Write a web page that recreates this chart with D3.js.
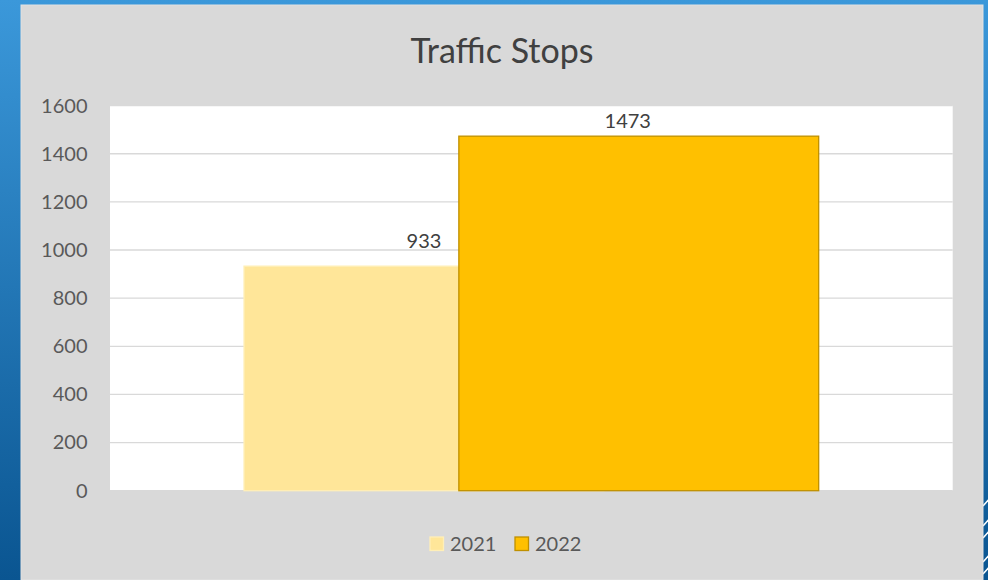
<!DOCTYPE html>
<html>
<head>
<meta charset="utf-8">
<script src="https://cdn.jsdelivr.net/npm/d3@7"></script>
<style>
  html, body { margin: 0; padding: 0; background: #fff; }
  svg { display: block; }
</style>
</head>
<body>
<script>
// chart values
const title = 'Traffic Stops'
const series = ['2021', '2022']
const values = [933, 1473]
const yTicks = [0, 200, 400, 600, 800, 1000, 1200, 1400, 1600]

const config = {
  width: 988,
  height: 580,
  panel: { x: 21, y: 5, w: 962, h: 575 },
  plot: { left: 110, right: 952.7, top: 105.6, bottom: 490.7 },
  barWidthFrac: 0.427,     // bar width as share of plot width
  overlapStep: 0.597,      // series step as share of bar width
  fills: ['#FFE699', '#FFC000'],
  strokes: ['#FFEFB8', '#BF9000'],
  textColor: '#595959',
  font: 'Lato, "Noto Sans", sans-serif',
  labelNudge: [{ dx: 0, dy: -18.5 }, { dx: -11, dy: -8.3 }]
}

const svg = d3.select('body').append('svg')
  .attr('width', config.width)
  .attr('height', config.height)

// blue slide background
const defs = svg.append('defs')
const grad = defs.append('linearGradient')
  .attr('id', 'bg').attr('x1', 0).attr('y1', 0).attr('x2', 0).attr('y2', 1)
grad.append('stop').attr('offset', '0%').attr('stop-color', '#3b98da')
grad.append('stop').attr('offset', '100%').attr('stop-color', '#0a5591')

svg.append('rect')
  .attr('width', config.width).attr('height', config.height)
  .attr('fill', 'url(#bg)')

// little white slashes at the bottom right edge
const slashes = [500, 520, 532, 556, 568]
svg.append('g').selectAll('line')
  .data(slashes).enter().append('line')
  .attr('x1', 983).attr('x2', 990)
  .attr('y1', d => d + 6).attr('y2', d => d - 2)
  .attr('stroke', '#fff').attr('stroke-width', 1.5)

// gray chart panel
const p = config.panel
svg.append('rect')
  .attr('x', p.x).attr('y', p.y).attr('width', p.w).attr('height', p.h)
  .attr('fill', '#D9D9D9')
  .attr('stroke', '#E2E2E2').attr('stroke-width', 1)

// plot area
const pl = config.plot
svg.append('rect')
  .attr('x', pl.left).attr('y', pl.top)
  .attr('width', pl.right - pl.left).attr('height', pl.bottom - pl.top)
  .attr('fill', '#fff')

const y = d3.scaleLinear().domain([0, 1600]).range([pl.bottom, pl.top])

// gridlines
svg.append('g').selectAll('line')
  .data(yTicks).enter().append('line')
  .attr('x1', pl.left).attr('x2', pl.right)
  .attr('y1', d => y(d)).attr('y2', d => y(d))
  .attr('stroke', '#D9D9D9').attr('stroke-width', 1.3)

// y axis labels
const yAxis = d3.axisLeft(y).tickValues(yTicks).tickFormat(d3.format('d'))
  .tickSize(0).tickPadding(0)
const gy = svg.append('g')
  .attr('transform', `translate(${87.5}, 0)`)
  .call(yAxis)
gy.select('.domain').remove()
gy.selectAll('text')
  .attr('fill', config.textColor)
  .style('font-family', config.font)
  .style('font-size', '20px')

// bars (overlapping series)
const plotW = pl.right - pl.left
const barW = plotW * config.barWidthFrac
const step = barW * config.overlapStep
const cx = pl.left + plotW / 2
const xs = d3.scalePoint().domain(series).range([cx - step / 2, cx + step / 2])

const bars = series.map((s, i) => ({ s: s, v: values[i], i: i }))

svg.append('g').selectAll('rect')
  .data(bars).enter().append('rect')
  .attr('x', d => xs(d.s) - barW / 2)
  .attr('y', d => y(d.v))
  .attr('width', barW)
  .attr('height', d => y(0) - y(d.v))
  .attr('fill', d => config.fills[d.i])
  .attr('stroke', d => config.strokes[d.i])
  .attr('stroke-width', 1.3)

// data labels
svg.append('g').selectAll('text')
  .data(bars).enter().append('text')
  .attr('x', d => xs(d.s) + config.labelNudge[d.i].dx)
  .attr('y', d => y(d.v) + config.labelNudge[d.i].dy)
  .attr('text-anchor', 'middle')
  .attr('fill', '#404040')
  .style('font-family', config.font)
  .style('font-size', '20px')
  .text(d => d.v)

// title
svg.append('text')
  .attr('x', 502)
  .attr('y', 63.3)
  .attr('text-anchor', 'middle')
  .attr('fill', '#404040')
  .style('font-family', config.font)
  .style('font-size', '34px')
  .text(title)

// legend
const legend = svg.append('g').attr('transform', 'translate(430, 537)')
const item = legend.selectAll('g')
  .data(series).enter().append('g')
  .attr('transform', (d, i) => `translate(${i * 85}, 0)`)
item.append('rect')
  .attr('width', 13.5).attr('height', 13.5)
  .attr('fill', (d, i) => config.fills[i])
  .attr('stroke', (d, i) => config.strokes[i])
  .attr('stroke-width', 1.3)
item.append('text')
  .attr('x', 20).attr('y', 14)
  .attr('fill', config.textColor)
  .style('font-family', config.font)
  .style('font-size', '20px')
  .text(d => d)
</script>
</body>
</html>
